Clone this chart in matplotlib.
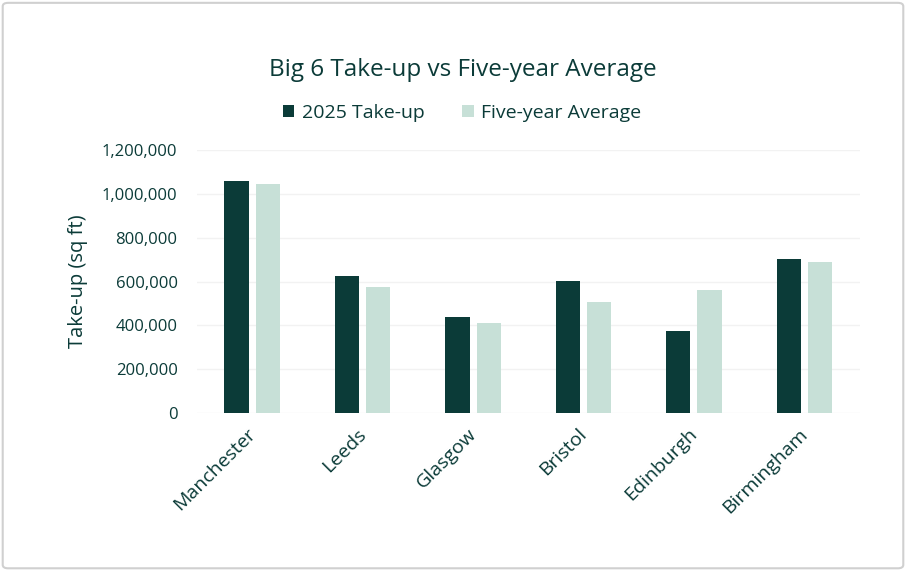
import matplotlib.pyplot as plt
import matplotlib.transforms as mtransforms
import numpy as np
from matplotlib.patches import FancyBboxPatch
from matplotlib.ticker import FuncFormatter

cities = ['Manchester', 'Leeds', 'Glasgow', 'Bristol', 'Edinburgh', 'Birmingham']
takeup_2025 = [1060000, 625000, 438000, 603000, 372000, 703000]
five_year_avg = [1045000, 575000, 409000, 505000, 561000, 690000]

DARK = '#0b3b38'
LIGHT = '#c7e0d7'
TEXT = '#0b3b38'

plt.rcParams['font.family'] = ['Open Sans', 'DejaVu Sans']

fig = plt.figure(figsize=(9.06, 5.70), dpi=100)
ax = fig.add_axes([0.2174, 0.276, 0.7314, 0.460])

# rounded light grey frame around the whole chart
frame = FancyBboxPatch((0.003, 0.003), 0.994, 0.992, boxstyle='round,pad=0,rounding_size=0.006',
                       transform=fig.transFigure, fill=False, edgecolor='#d0d0d0', linewidth=1.5)
fig.patches.append(frame)

x = np.arange(len(cities))
w = 0.22
ax.bar(x - 0.142, takeup_2025, w, color=DARK, label='2025 Take-up', zorder=3)
ax.bar(x + 0.142, five_year_avg, w, color=LIGHT, label='Five-year Average', zorder=3)

ax.set_xlim(-0.5, len(cities) - 0.5)
ax.set_ylim(0, 1200000)
ax.set_yticks(np.arange(0, 1200001, 200000))
ax.yaxis.set_major_formatter(FuncFormatter(lambda v, p: f'{int(v):,}'))
ax.grid(axis='y', color='#f2f2f2', linewidth=1, zorder=0)
for s in ax.spines.values():
    s.set_visible(False)
ax.tick_params(axis='both', length=0, colors=TEXT)
ax.tick_params(axis='y', pad=14, labelsize=12)

ax.set_xticks(x)
ax.set_xticklabels(cities, rotation=45, ha='right', va='top', rotation_mode='anchor')
ax.tick_params(axis='x', pad=9, labelsize=14)
shift = mtransforms.ScaledTranslation(-6 / 100, 0, fig.dpi_scale_trans)
for lbl in ax.get_xticklabels():
    lbl.set_transform(lbl.get_transform() + shift)

ax.set_ylabel('Take-up (sq ft)', color=TEXT, fontsize=14.5, labelpad=10)

fig.text(0.511, 0.877, 'Big 6 Take-up vs Five-year Average', ha='center', va='center',
         color=TEXT, fontsize=17.5)
leg = fig.legend(loc='center', bbox_to_anchor=(0.51, 0.802), ncol=2, frameon=False,
                 fontsize=14, handlelength=0.6, handleheight=0.6, handletextpad=0.4,
                 columnspacing=1.9)
for t in leg.get_texts():
    t.set_color(TEXT)

fig.savefig('out.png', dpi=100, facecolor='white')
